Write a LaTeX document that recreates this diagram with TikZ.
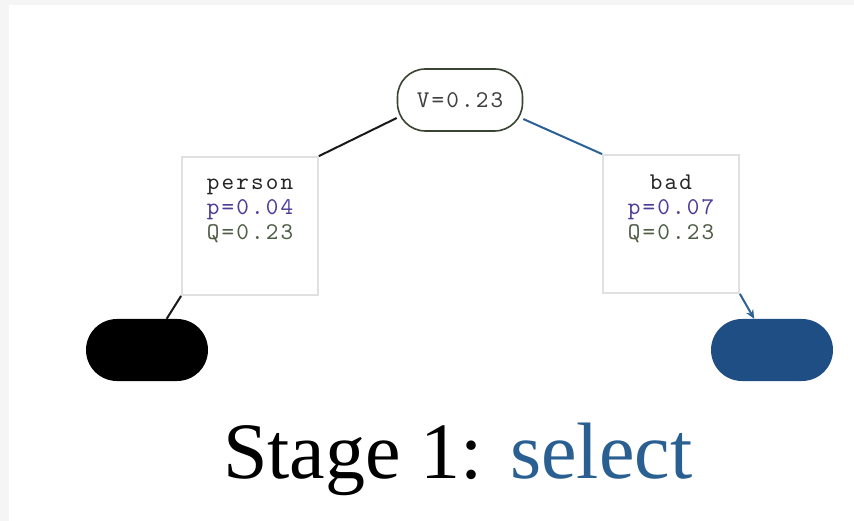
\documentclass[tikz,border=0pt]{standalone}
\usepackage{fontspec}
\setmainfont{Liberation Serif}
\setmonofont{lmmono10-regular.otf}[LetterSpace=9.0]
\usetikzlibrary{arrows.meta}
\definecolor{edgeblue}{HTML}{2B6196}
\definecolor{leafblue}{HTML}{1F4E85}
\definecolor{titleblue}{HTML}{2A5F92}
\definecolor{pcol}{HTML}{4C3D99}
\definecolor{qcol}{HTML}{4E5E46}
\definecolor{rootborder}{HTML}{3A4433}
\definecolor{bggray}{HTML}{F5F5F5}
\tikzset{
  rootnode/.style={draw=rootborder, line width=1.6pt, rounded corners=28pt, fill=white,
    minimum width=125pt, minimum height=62pt, inner sep=0pt,
    font=\fontsize{24}{25}\selectfont\ttfamily, text=black!75},
  statebox/.style={draw=black!12, line width=1.8pt, fill=white,
    minimum width=136pt, minimum height=138pt, inner sep=0pt},
  boxtext/.style={align=center, inner sep=0pt,
    font=\fontsize{24}{25}\selectfont\ttfamily, text=black!85},
  leaf/.style={rounded corners=31pt, minimum width=122pt, minimum height=62pt, inner sep=0pt},
  edge/.style={line width=2pt},
}
\begin{document}
\begin{tikzpicture}[x=1pt,y=-1pt]
\useasboundingbox (0,0) rectangle (854,521);
\fill[bggray] (0,0) rectangle (854,521);
\fill[white] (9,5) rectangle (854,521);

\node[rootnode] (root) at (460,100) {V=0.23};
\node[statebox] (person) at (250,226) {};
\node[boxtext] (persontext) at ([yshift=15pt]person.center) {person\\\textcolor{pcol}{p=0.04}\\\textcolor{qcol}{Q=0.23}};
\node[statebox] (bad) at (671,224) {};
\node[boxtext] (badtext) at ([yshift=15pt]bad.center) {bad\\\textcolor{pcol}{p=0.07}\\\textcolor{qcol}{Q=0.23}};

\node[leaf, fill=black] (leafl) at (147,350) {};
\node[leaf, fill=leafblue] (leafr) at (772,350) {};

\draw[edge, black!90] ([yshift=-18pt]root.west) -- (person.north east);
\draw[edge, edgeblue] ([yshift=-19pt]root.east) -- (bad.north west);
\draw[edge, black!90] (person.south west) -- (leafl);
\draw[edge, edgeblue, -{Stealth[length=9pt,width=8pt]}] (bad.south east) -- (leafr);

\node[anchor=base west, inner sep=0pt, font=\fontsize{80}{90}\selectfont] (title) at (223,478)
  {Stage 1:\hspace{27pt}\textcolor{titleblue}{select}};
\end{tikzpicture}
\end{document}
